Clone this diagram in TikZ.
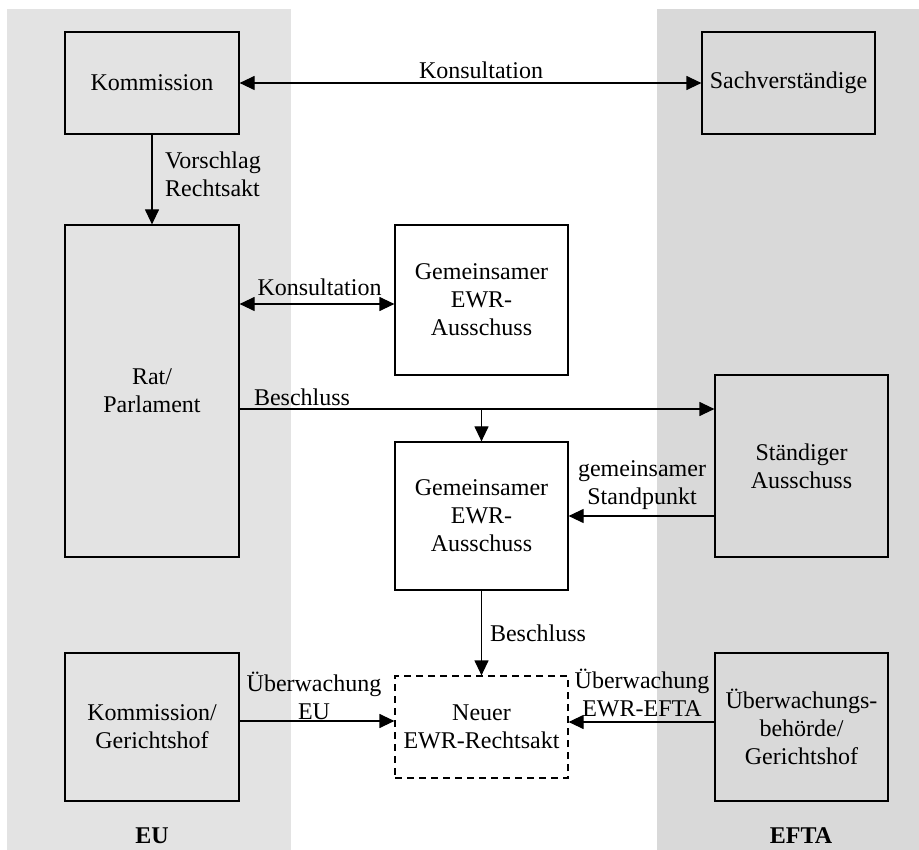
\documentclass[tikz,border=0pt]{standalone}
\usepackage{fontspec}
\setmainfont{Liberation Serif}
\usetikzlibrary{arrows.meta}
\definecolor{eugrau}{HTML}{E3E3E3}
\definecolor{eftagrau}{HTML}{D9D9D9}
\tikzset{
	kasten/.style={draw, line width=1.2pt, align=center, inner sep=2pt},
	pfeil/.style={line width=1.2pt, -{Triangle[length=15pt,width=14pt]}},
	doppelpfeil/.style={line width=1.2pt, {Triangle[length=15pt,width=14pt]}-{Triangle[length=15pt,width=14pt]}},
	beschriftung/.style={inner sep=0pt, align=center},
}

\begin{document}
\begin{tikzpicture}[x=1pt, y=-1pt, font=\fontsize{24}{28}\selectfont]
			%%%%% START %%%%%
			\useasboundingbox (0,0) rectangle (919,850);
			\fill[white] (0,0) rectangle (919,850);
			
			% Bereiche EU und EFTA
			\fill[eugrau] (7,9) rectangle (291,850);
			\fill[eftagrau] (657,9) rectangle (919,850);
			
			\node[kasten, minimum width=174, minimum height=102] (kom) at (152,83) {Kommission};
			\node[kasten, minimum width=173, minimum height=102] (sach) at (788.5,83) {Sachverständige};
			\node[kasten, minimum width=174, minimum height=332] (rat) at (152,391) {Rat/\\Parlament};
			\node[kasten, fill=white, minimum width=173, minimum height=150] (gemA) at (481.5,300) {Gemeinsamer\\EWR-\\Ausschuss};
			\node[kasten, fill=white, minimum width=173, minimum height=148] (gemB) at (481.5,516) {Gemeinsamer\\EWR-\\Ausschuss};
			\node[kasten, minimum width=173, minimum height=182] (staend) at (801.5,466) {Ständiger\\Ausschuss};
			\node[kasten, fill=white, dash pattern=on 7pt off 5pt, minimum width=173, minimum height=102] (neu) at (481.5,727) {Neuer\\EWR-Rechtsakt};
			\node[kasten, minimum width=174, minimum height=148] (komger) at (152,727) {Kommission/\\Gerichtshof};
			\node[kasten, minimum width=173, minimum height=148] (ueb) at (801.5,727) {Überwachungs-\\behörde/\\Gerichtshof};
			
			\coordinate (besch) at (481.5,409);
			
			\draw[doppelpfeil] (kom.east) -- (sach.west);
			\draw[pfeil] (kom.south) -- (rat.north);
			\draw[doppelpfeil] ([yshift=-4pt]rat.east |- gemA.west) -- ([yshift=-4pt]gemA.west);
			\draw[pfeil] (rat.east |- besch) -- (staend.west |- besch);
			\draw[pfeil] (besch) -- (besch |- gemB.north);
			\draw[pfeil] (staend.west |- gemB.east) -- (gemB.east);
			\draw[pfeil] (gemB.south) -- (neu.north);
			\draw[pfeil] ([yshift=6pt]komger.east) -- ([yshift=6pt]neu.west);
			\draw[pfeil] ([yshift=5pt]ueb.west) -- ([yshift=5pt]neu.east);
			
			\node[beschriftung] (lkons) at (481,70) {Konsultation};
			\node[beschriftung, align=left] (lvor) at (213,174) {Vorschlag\\Rechtsakt};
			\node[beschriftung] (lkonsB) at (319.5,287) {Konsultation};
			\node[beschriftung] (lbesch) at (302,397) {Beschluss};
			\node[beschriftung] (lstand) at (642,485) {gemeinsamer\\Standpunkt};
			\node[beschriftung] (lbeschB) at (538,633) {Beschluss};
			\node[beschriftung] (lueb) at (314,696) {Überwachung\\EU};
			\node[beschriftung] (luebB) at (642,693) {Überwachung\\EWR-EFTA};
			
			\node[beschriftung] (eu) at (152,836) {\textbf{EU}};
			\node[beschriftung] (efta) at (801,836) {\textbf{EFTA}};
			%%%%% END %%%%%
\end{tikzpicture}
\end{document}
